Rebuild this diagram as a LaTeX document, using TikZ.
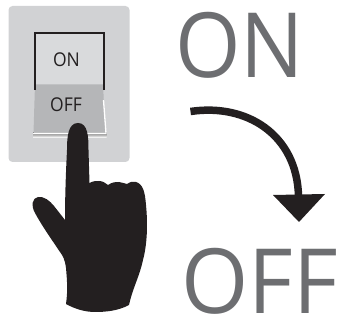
\documentclass[tikz,border=0pt]{standalone}
\usepackage{fontspec}
\setmainfont{Open Sans}
\definecolor{plate}{HTML}{D1D2D4}
\definecolor{upper}{HTML}{D9DADC}
\definecolor{lower}{HTML}{B5B6B8}
\definecolor{shade}{HTML}{A7A9AC}
\definecolor{ink}{HTML}{231F20}
\definecolor{big}{HTML}{6D6E71}
\tikzset{
 bigtext/.style={text=big,inner sep=0pt,font=\fontsize{90}{90}\selectfont,anchor=base},
 smalltext/.style={text=ink,inner sep=0pt,font=\fontsize{19}{19}\selectfont,anchor=base,xscale=.92},
 solidink/.style={fill=ink,draw=none}
}
\begin{document}
\begin{tikzpicture}[x=1pt,y=-1pt]
\useasboundingbox (0,0) rectangle (341,323);
% plate
\fill[plate,rounded corners=4pt] (8.5,6) rectangle (129.5,162);
% rocker
\fill[upper] (35,33) rectangle (104,85);
\fill[shade] (33,133) rectangle (106.5,137.5);
\fill[lower] (35,84.5) -- (103,84.5) -- (105.5,133) -- (33.5,133) -- cycle;
\draw[white,line width=1.3pt] (33,133.5) -- (106,133.5) -- (103.5,100);
\draw[ink,line width=1.5pt] (35,90) -- (35,33) -- (104,33) -- (104,90);
\node[smalltext] (swon) at (66.5,67) {ON};
\node[smalltext] (swoff) at (66,111.5) {OFF};
% hand
\fill[solidink] (67,150)
 .. controls (67,137) and (68,123) .. (78,123)
 .. controls (88,123) and (88.5,137) .. (88.5,150)
 -- (89.5,183)
 .. controls (93,181) and (96,181) .. (99,181)
 .. controls (103,181) and (105,183) .. (108,185)
 .. controls (112,182) and (116,182) .. (119,182)
 .. controls (122,182) and (125,184) .. (127,184)
 .. controls (130,182) and (133,181) .. (136,182)
 .. controls (143,184) and (145,192) .. (146,205)
 .. controls (148,225) and (147,245) .. (143,260)
 .. controls (140,275) and (132,290) .. (129,305)
 .. controls (118,311) and (105,312) .. (95,312)
 .. controls (85,312) and (75,309) .. (66,304)
 .. controls (68,290) and (67,280) .. (66,268)
 .. controls (65,260) and (63,256) .. (60,252)
 .. controls (52,240) and (42,226) .. (35,213)
 .. controls (31,206) and (32,198) .. (38,197)
 .. controls (44,196) and (50,201) .. (54,206)
 -- (65,220)
 .. controls (65,195) and (66,170) .. (67,150) -- cycle;
% big labels
\node[bigtext,xscale=.935] (on) at (239.5,78) {ON};
\node[bigtext,xscale=.96] (off) at (259.5,314) {OFF};
% arrow
\coordinate (a0) at (190.5,111.5);
\coordinate (a1) at (298.5,196);
\draw[ink,line width=7.5pt] (a0) .. controls (247,103) and (297,135) .. (a1);
\fill[solidink] (273,195) -- (325,194) -- (299,222) -- cycle;
\end{tikzpicture}
\end{document}
